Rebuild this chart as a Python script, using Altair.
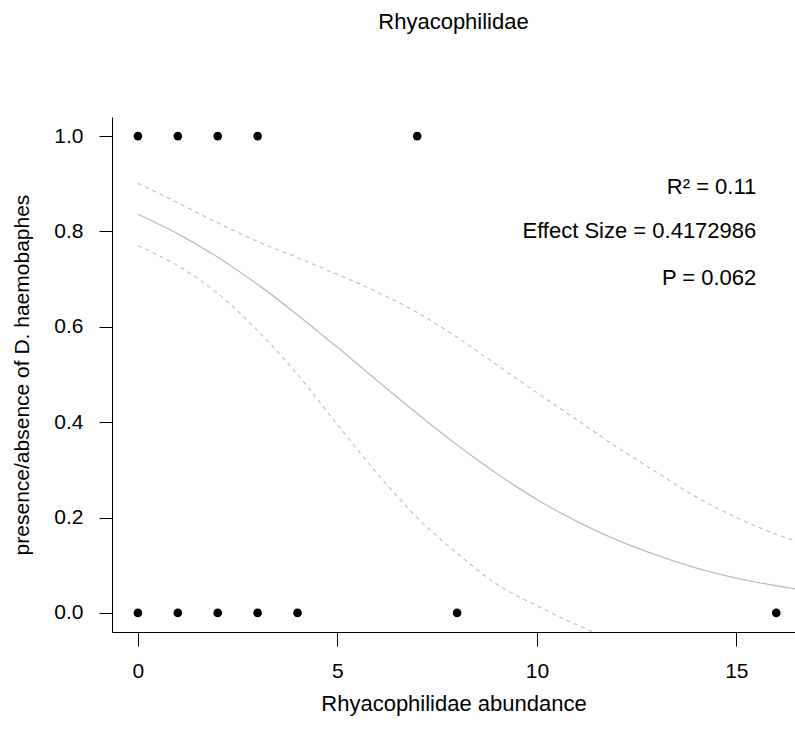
import altair as alt
import pandas as pd

# ---- data ----
pres_x = [0, 1, 2, 3, 7]          # abundance where D. haemobaphes present
abs_x = [0, 1, 2, 3, 4, 8, 16]    # abundance where absent

curve_x = [0, 1, 2, 3, 4, 5, 6, 7, 8, 9, 10, 11, 12, 13, 14, 15, 16, 16.5]
fit_y = [0.836, 0.795, 0.746, 0.689, 0.625, 0.557, 0.487, 0.418, 0.352,
         0.292, 0.238, 0.192, 0.153, 0.121, 0.094, 0.073, 0.057, 0.050]
upper_y = [0.901, 0.860, 0.818, 0.779, 0.745, 0.710, 0.673, 0.630, 0.578,
           0.520, 0.462, 0.405, 0.348, 0.295, 0.243, 0.200, 0.165, 0.150]
lower_x = [0, 1, 2, 3, 4, 5, 6, 7, 8, 9, 10, 11, 12]
lower_y = [0.770, 0.728, 0.670, 0.592, 0.500, 0.395, 0.292, 0.200, 0.125,
           0.060, 0.015, -0.025, -0.060]

stat_labels = ["R² = 0.11", "Effect Size = 0.4172986", "P = 0.062"]

# ---- tables ----
pts = pd.DataFrame({
    "x": pres_x + abs_x,
    "y": [1] * len(pres_x) + [0] * len(abs_x),
})
fit = pd.DataFrame({"x": curve_x, "y": fit_y})
bands = pd.concat([
    pd.DataFrame({"x": curve_x, "y": upper_y, "band": "upper"}),
    pd.DataFrame({"x": lower_x, "y": lower_y, "band": "lower"}),
])
ann = pd.DataFrame({
    "label": stat_labels,
    "x": [15.5] * 3,
    "y": [0.893, 0.801, 0.702],
})

FONT = "Liberation Sans"
FS = 21
TFS = 22

xscale = alt.Scale(domain=[-0.65, 16.47], nice=False, zero=False)
yscale = alt.Scale(domain=[-0.04, 1.04], nice=False, zero=False)

xaxis = alt.Axis(
    values=[0, 5, 10, 15], title="Rhyacophilidae abundance", grid=False,
    tickSize=14, labelPadding=14, titleY=71, titleBaseline="middle",
    labelFlush=False, domainColor="black", tickColor="black",
    labelColor="black", titleColor="black", labelFont=FONT, titleFont=FONT,
    labelFontSize=FS, titleFontSize=TFS, titleFontWeight="normal",
)
yaxis = alt.Axis(
    values=[0, 0.2, 0.4, 0.6, 0.8, 1.0], format=".1f",
    title="presence/absence of D. haemobaphes", grid=False,
    tickSize=13, labelPadding=16, titleX=-90, titleY=257.5,
    titleBaseline="middle", titleAlign="center", titleAngle=-90,
    labelFlush=False, domainColor="black", tickColor="black",
    labelColor="black", titleColor="black", labelFont=FONT, titleFont=FONT,
    labelFontSize=FS, titleFontSize=FS, titleFontWeight="normal",
)

points = alt.Chart(pts).mark_circle(size=75, color="black", opacity=1).encode(
    x=alt.X("x:Q", scale=xscale, axis=xaxis),
    y=alt.Y("y:Q", scale=yscale, axis=yaxis),
)

fit_line = alt.Chart(fit).mark_line(
    color="#bebebe", strokeWidth=1.3, interpolate="monotone", clip=True
).encode(x=alt.X("x:Q", scale=xscale), y=alt.Y("y:Q", scale=yscale))

band_lines = alt.Chart(bands).mark_line(
    color="#bebebe", strokeWidth=1.1, strokeDash=[4, 4],
    interpolate="monotone", clip=True
).encode(
    x=alt.X("x:Q", scale=xscale), y=alt.Y("y:Q", scale=yscale),
    detail="band:N",
)

texts = alt.Chart(ann).mark_text(
    align="right", baseline="middle", font=FONT, fontSize=TFS, color="black"
).encode(x=alt.X("x:Q", scale=xscale), y=alt.Y("y:Q", scale=yscale),
         text="label:N")

chart = alt.layer(band_lines, fit_line, points, texts).properties(
    width=683, height=515,
    autosize="none",
    background="white",
    padding={"left": 112, "top": 117, "right": 0, "bottom": 113},
    title=alt.TitleParams(
        "Rhyacophilidae", font=FONT, fontSize=TFS, fontWeight="normal",
        color="black", anchor="middle", offset=83,
    ),
).configure_view(stroke=None).configure_axis(
    domainWidth=1, tickWidth=1,
)

chart.save("out.html", embed_options={"renderer": "svg", "actions": False})
